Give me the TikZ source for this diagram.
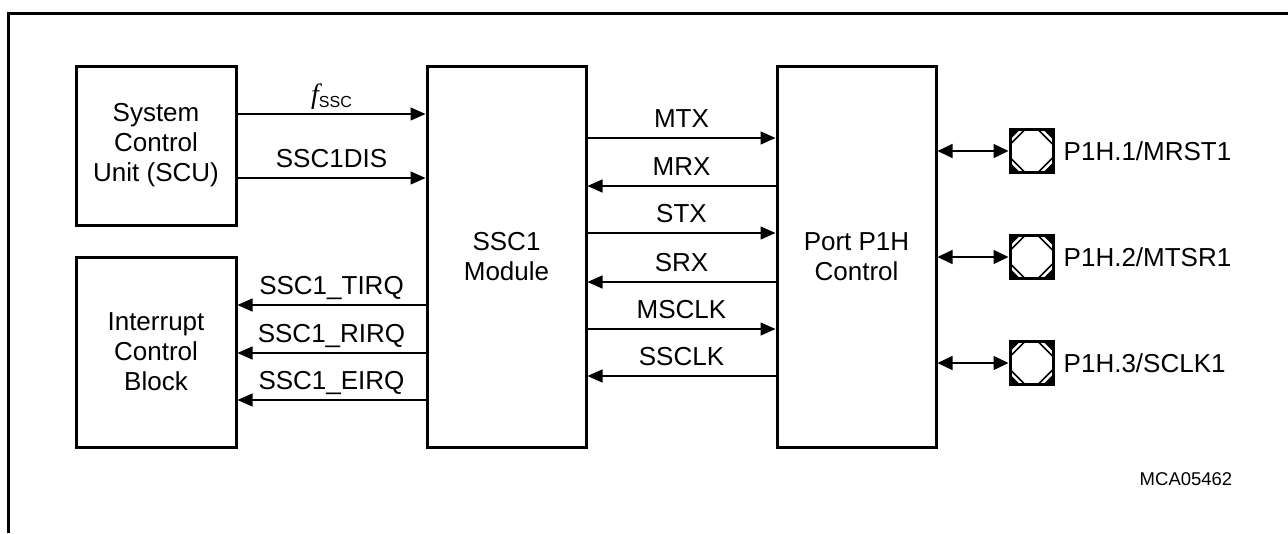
\documentclass[tikz,border=0pt]{standalone}
\usepackage{fontspec}
\setmainfont{Liberation Sans}
\newfontfamily\serifitfont{Liberation Serif}
\usepackage{tikz}
\usetikzlibrary{positioning, arrows.meta}
\tikzset{
	blocknode/.style={
			draw=black,
			line width=3pt,
			align=center,
			inner sep=0pt,
			font=\fontsize{26}{30}\selectfont
		},
	pinnode/.style={
			draw=black,
			line width=3pt,
			minimum size=43pt,
			inner sep=0pt,
			path picture={
				\foreach \c/\dx/\dy in {north west/1/-1, north east/-1/-1, south west/1/1, south east/-1/1} {
					\fill (path picture bounding box.\c) -- ++(\dx*10pt,0pt) -- ++(-\dx*10pt,\dy*10pt) -- cycle;
					\draw[line width=1.6pt] (path picture bounding box.\c) ++(\dx*15pt,0pt) -- ++(-\dx*15pt,\dy*15pt);
				}
			}
		},
	sigline/.style={
			line width=1.4pt,
			-{Triangle[length=15pt,width=13pt]}
		},
	pinline/.style={
			line width=1.4pt,
			{Triangle[length=15pt,width=14pt]}-{Triangle[length=15pt,width=14pt]}
		},
	labelnode/.style={
			midway,
			anchor=base,
			yshift=11pt,
			inner sep=0pt,
			font=\fontsize{26}{30}\selectfont
		},
	pinlabel/.style={
			inner sep=0pt,
			font=\fontsize{26}{30}\selectfont
		}
}

\begin{document}
\begin{tikzpicture}[x=1pt, y=-1pt]
\useasboundingbox (0,0) rectangle (1288,533);
\draw[line width=3pt] (8,533) -- (8,13) -- (1288,13);

\node[blocknode, minimum width=160pt, minimum height=159pt] (scu) at (156,145.5) {System\\Control\\Unit (SCU)};
\node[blocknode, minimum width=160pt, minimum height=190pt] (icb) at (156,352) {Interrupt\\Control\\Block};
\node[blocknode, minimum width=159pt, minimum height=381pt] (ssc) at (506.5,256.5) {SSC1\\Module};
\node[blocknode, minimum width=159pt, minimum height=381pt] (port) at (856.5,256.5) {Port P1H\\Control};

\node[pinnode] (pin1) at (1031.5,151) {};
\node[pinnode] (pin2) at (1031.5,257) {};
\node[pinnode] (pin3) at (1031.5,363) {};
\node[pinlabel, right=9pt of pin1] (pinlbl1) {P1H.1/MRST1};
\node[pinlabel, right=9pt of pin2] (pinlbl2) {P1H.2/MTSR1};
\node[pinlabel, right=9pt of pin3] (pinlbl3) {P1H.3/SCLK1};

\node[font=\fontsize{18.5}{20}\selectfont] (figid) at (1186,479) {MCA05462};

\draw[sigline] (scu.east |- 0,114) -- (ssc.west |- 0,114) node[labelnode] {{\fontsize{28}{30}\serifitfont\itshape f}\raisebox{-4pt}{\fontsize{16}{16}\selectfont SSC}};
\draw[sigline] (scu.east |- 0,178) -- (ssc.west |- 0,178) node[labelnode] {SSC1DIS};

\draw[sigline] (ssc.west |- 0,305) -- (icb.east |- 0,305) node[labelnode] {SSC1\_TIRQ};
\draw[sigline] (ssc.west |- 0,353) -- (icb.east |- 0,353) node[labelnode] {SSC1\_RIRQ};
\draw[sigline] (ssc.west |- 0,400) -- (icb.east |- 0,400) node[labelnode] {SSC1\_EIRQ};

\draw[sigline] (ssc.east |- 0,138) -- (port.west |- 0,138) node[labelnode] {MTX};
\draw[sigline] (port.west |- 0,186) -- (ssc.east |- 0,186) node[labelnode] {MRX};
\draw[sigline] (ssc.east |- 0,233) -- (port.west |- 0,233) node[labelnode] {STX};
\draw[sigline] (port.west |- 0,282) -- (ssc.east |- 0,282) node[labelnode] {SRX};
\draw[sigline] (ssc.east |- 0,329) -- (port.west |- 0,329) node[labelnode] {MSCLK};
\draw[sigline] (port.west |- 0,376) -- (ssc.east |- 0,376) node[labelnode] {SSCLK};

\draw[pinline] (port.east |- pin1) -- (pin1);
\draw[pinline] (port.east |- pin2) -- (pin2);
\draw[pinline] (port.east |- pin3) -- (pin3);
\end{tikzpicture}
\end{document}
